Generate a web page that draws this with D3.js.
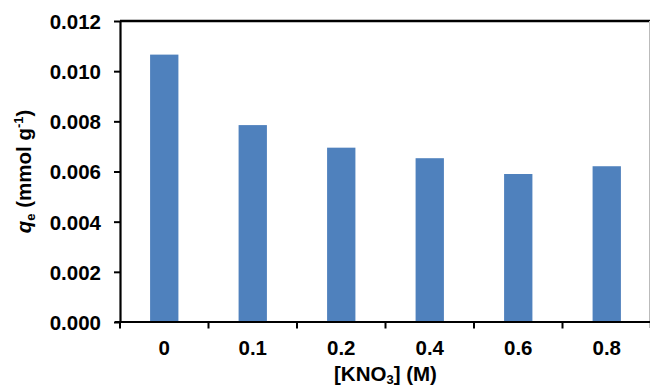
<!DOCTYPE html>
<html>
<head>
<meta charset="utf-8">
<script src="https://cdn.jsdelivr.net/npm/d3@7/dist/d3.min.js"></script>
<style>
  html, body { margin: 0; padding: 0; background: #fff; }
  svg { display: block; }
  text { font-family: "Liberation Sans", Arial, sans-serif; font-weight: bold; fill: #000; }
</style>
</head>
<body>
<svg id="chart" width="650" height="387"></svg>
<script>
// KNO3 concentration (M) and adsorption capacity q_e (mmol/g)
const categories = ["0", "0.1", "0.2", "0.4", "0.6", "0.8"];
const qeValues = [0.01066, 0.00785, 0.00695, 0.00653, 0.00590, 0.00621];
const yTicks = [0, 0.002, 0.004, 0.006, 0.008, 0.010, 0.012];

const svg = d3.select("#chart");
const plotLeft = 120, plotRight = 651, plotTop = 21, plotBottom = 322;
const fontSize = 20.5;

const x = d3.scaleBand()
  .domain(categories)
  .range([plotLeft, plotRight])
  .paddingInner(0.68)
  .paddingOuter(0.34);

const y = d3.scaleLinear()
  .domain([0, 0.012])
  .range([plotBottom, plotTop]);

// bars
svg.append("g")
  .selectAll("rect")
  .data(categories)
  .join("rect")
  .attr("x", d => x(d))
  .attr("width", x.bandwidth())
  .attr("y", (d, i) => y(qeValues[i]))
  .attr("height", (d, i) => y(0) - y(qeValues[i]))
  .attr("fill", "#4f81bd");

// top border and right edge of plot frame
svg.append("line")
  .attr("x1", plotLeft).attr("x2", 650)
  .attr("y1", plotTop).attr("y2", plotTop)
  .attr("stroke", "#000").attr("stroke-width", 2.5);
svg.append("line")
  .attr("x1", 649.5).attr("x2", 649.5)
  .attr("y1", plotTop).attr("y2", plotBottom + 6)
  .attr("stroke", "#bbb").attr("stroke-width", 1);

// y axis
const yAxis = svg.append("g")
  .attr("transform", `translate(${plotLeft},0)`)
  .call(d3.axisLeft(y).tickValues(yTicks).tickFormat(d3.format(".3f"))
    .tickSize(6).tickPadding(13).tickSizeOuter(0));
yAxis.attr("font-size", fontSize).attr("font-family", null);
yAxis.select(".domain").attr("stroke", "#000").attr("stroke-width", 2.2);
yAxis.selectAll(".tick line").attr("stroke", "#000").attr("stroke-width", 2);
yAxis.selectAll(".tick text").attr("dy", "0.36em");

// x axis: labels centred in bands, ticks at band boundaries
const xAxis = svg.append("g")
  .attr("transform", `translate(0,${plotBottom})`)
  .call(d3.axisBottom(x).tickSize(0).tickPadding(18).tickSizeOuter(0));
xAxis.attr("font-size", fontSize).attr("font-family", null);
xAxis.select(".domain").remove();

const step = x.step();
const boundaries = d3.range(categories.length + 1).map(i => plotLeft + i * step);
svg.append("line")
  .attr("x1", plotLeft - 5).attr("x2", 650)
  .attr("y1", plotBottom).attr("y2", plotBottom)
  .attr("stroke", "#000").attr("stroke-width", 2.2);
svg.append("g")
  .selectAll("line")
  .data(boundaries)
  .join("line")
  .attr("x1", d => d).attr("x2", d => d)
  .attr("y1", plotBottom).attr("y2", plotBottom + 6.5)
  .attr("stroke", "#000").attr("stroke-width", 2);

// axis titles
const xTitle = svg.append("text")
  .attr("x", (plotLeft + plotRight) / 2)
  .attr("y", 381)
  .attr("text-anchor", "middle")
  .attr("font-size", fontSize);
xTitle.append("tspan").text("[KNO");
xTitle.append("tspan").text("3").attr("dy", 3).attr("font-size", 13);
xTitle.append("tspan").text("] (M)").attr("dy", -3);

const yTitle = svg.append("text")
  .attr("transform", `translate(31,${(plotTop + plotBottom) / 2}) rotate(-90)`)
  .attr("text-anchor", "middle")
  .attr("font-size", fontSize);
yTitle.append("tspan").text("q").attr("font-style", "italic");
yTitle.append("tspan").text("e").attr("dy", 4).attr("font-size", 13);
yTitle.append("tspan").text(" (mmol g").attr("dy", -4);
yTitle.append("tspan").text("-1").attr("dy", -8).attr("font-size", 13);
yTitle.append("tspan").text(")").attr("dy", 8);
</script>
</body>
</html>
